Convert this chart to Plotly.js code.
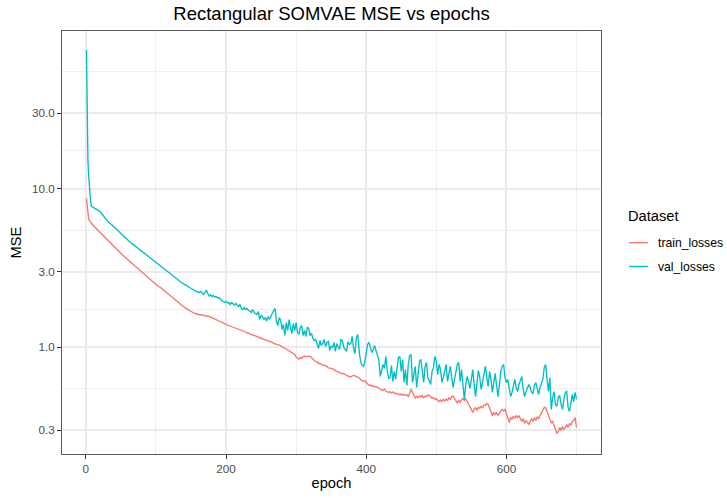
<!DOCTYPE html>
<html>
<head>
<meta charset="utf-8">
<script src="https://cdn.plot.ly/plotly-3.0.1.min.js"></script>
<style>
html,body{margin:0;padding:0;background:#ffffff;}
#chart{width:727px;height:498px;}
</style>
</head>
<body>
<div id="chart"></div>
<script>
const epochs = [
  1,2,3,4,5,6,7,8,9,10,
  12,14,16,18,20,24,28,32,37,41,
  46,51,56,61,66,71,76,81,86,91,
  96,101,107,112,117,122,127,132,137,142,
  147,150,
  152,154,156,158,160,162,164,166,168,170,
  172,174,176,178,180,182,184,186,188,190,
  192,194,196,198,200,202,204,206,208,210,
  212,214,216,218,220,222,224,226,228,230,
  232,234,236,238,240,242,244,246,248,250,
  252,254,256,258,260,262,264,266,268,270,
  272,274,276,278,280,282,284,286,288,290,
  292,294,296,298,300,302,304,306,308,310,
  312,314,316,318,320,322,324,326,328,330,
  332,334,336,338,340,342,344,346,348,350,
  352,354,356,358,360,362,364,366,368,370,
  372,374,376,378,380,382,384,386,388,390,
  392,394,396,398,400,402,404,406,408,410,
  412,414,416,418,420,422,424,426,428,430,
  432,434,436,438,440,442,444,446,448,450,
  452,454,456,458,460,462,464,466,468,470,
  472,474,476,478,480,482,484,486,488,490,
  492,494,496,498,500,502,504,506,508,510,
  512,514,516,518,520,522,524,526,528,530,
  532,534,536,538,540,542,544,546,548,550,
  552,554,556,558,560,562,564,566,568,570,
  572,574,576,578,580,582,584,586,588,590,
  592,594,596,598,600,602,604,606,608,610,
  612,614,616,618,620,622,624,626,628,630,
  632,634,636,638,640,642,644,646,648,650,
  652,654,656,658,660,662,664,666,668,670,
  672,674,676,678,680,682,684,686,688,690,
  692,694,696,698,700
];

const trainLosses = [
  8.67,7.5,6.9,6.5,6.3,6.2,6.1,6.02,5.95,5.9,
  5.78,5.66,5.55,5.42,5.3,5.08,4.86,4.65,4.45,4.27,
  4.06,3.87,3.69,3.53,3.38,3.23,3.08,2.94,2.81,2.69,
  2.57,2.47,2.37,2.27,2.17,2.07,1.99,1.91,1.84,1.77,
  1.71,1.68,
  1.655,1.643,1.631,1.619,1.607,1.607,1.596,1.596,1.584,1.584,
  1.573,1.573,1.561,1.55,1.539,1.517,1.506,1.494,1.473,1.462,
  1.452,1.431,1.42,1.41,1.39,1.38,1.37,1.35,1.35,1.34,1.331,
  1.321,1.311,1.302,1.293,1.283,1.265,1.256,1.247,1.229,1.229,
  1.211,1.203,1.194,1.185,1.185,1.168,1.16,1.143,1.143,1.126,
  1.126,1.11,1.102,1.102,1.086,1.078,1.071,1.055,1.048,1.04,
  1.033,1.025,1.025,1.003,0.996,0.988,0.974,0.96,0.947,0.94,
  0.926,0.92,0.899,0.867,0.855,0.842,0.861,0.849,0.874,0.88,
  0.867,0.88,0.874,0.874,0.861,0.836,0.824,0.813,0.807,0.789,
  0.789,0.778,0.772,0.767,0.756,0.756,0.74,0.74,0.735,0.729,0.718,
  0.713,0.703,0.698,0.693,0.683,0.678,0.683,0.668,0.663,0.658,
  0.653,0.649,0.658,0.663,0.658,0.653,0.649,0.64,0.626,0.613,
  0.608,0.613,0.599,0.586,0.573,0.578,0.565,0.573,0.561,0.565,
  0.557,0.549,0.541,0.537,0.533,0.545,0.529,0.525,0.518,0.525,
  0.514,0.522,0.51,0.514,0.503,0.51,0.5,0.507,0.496,0.503,
  0.496,0.5,0.488,0.51,0.545,0.518,0.496,0.478,0.488,0.481,
  0.492,0.485,0.496,0.481,0.492,0.488,0.5,0.495,0.488,0.474,0.481,
  0.468,0.474,0.461,0.454,0.464,0.454,0.468,0.458,0.471,0.461,
  0.478,0.468,0.488,0.492,0.474,0.461,0.445,0.461,0.448,0.464,
  0.474,0.461,0.471,0.454,0.435,0.423,0.405,0.388,0.405,0.417,
  0.399,0.417,0.411,0.423,0.414,0.432,0.429,0.441,0.435,0.417,
  0.393,0.368,0.388,0.373,0.388,0.371,0.382,0.393,0.405,0.396,
  0.405,0.382,0.35,0.335,0.36,0.35,0.368,0.355,0.371,0.36,
  0.368,0.35,0.34,0.355,0.33,0.345,0.335,0.325,0.34,0.355,0.34,
  0.36,0.345,0.363,0.355,0.371,0.382,0.399,0.417,0.414,0.393,
  0.376,0.35,0.333,0.34,0.316,0.303,0.285,0.294,0.312,0.298,
  0.316,0.303,0.312,0.325,0.312,0.33,0.321,0.34,0.345,0.36,
  0.312
];

const valLosses = [
  75,19.5,15.3,12.3,10.3,8.93,8.18,7.75,7.7,7.68,
  7.62,7.55,7.45,7.32,7.2,6.85,6.47,6.16,5.93,5.7,
  5.4,5.15,4.9,4.7,4.5,4.32,4.15,3.99,3.85,3.68,
  3.53,3.39,3.26,3.12,2.99,2.86,2.75,2.64,2.55,2.47,
  2.39,2.33,
  2.295,2.279,2.262,2.246,2.23,2.213,2.246,2.181,2.15,2.213,
  2.295,2.181,2.1,2.15,2.088,2.119,2.073,2.088,2.043,2.058,
  1.999,1.97,1.942,1.914,1.942,1.9,1.914,1.859,1.914,1.88,1.845,
  1.886,1.832,1.806,1.859,1.754,1.728,1.78,1.728,1.754,1.703,
  1.691,1.655,1.728,1.655,1.631,1.607,1.679,1.494,1.584,1.561,
  1.494,1.539,1.462,1.561,1.494,1.584,1.631,1.703,1.754,1.452,
  1.37,1.539,1.473,1.293,1.39,1.185,1.431,1.274,1.494,1.331,
  1.22,1.41,1.274,1.431,1.238,1.203,1.331,1.37,1.185,1.274,
  1.168,1.331,1.311,1.185,1.22,1.135,1.102,1.118,1.04,0.981,
  1.102,1.025,1.055,1.118,1.01,1.071,1.086,0.953,1.02,0.996,1.071,
  0.94,1.055,1.01,0.967,1.118,1.102,0.996,0.967,0.94,1.086,
  1.04,1.055,1.168,0.981,0.913,1.151,1.203,0.94,0.813,0.767,
  0.756,0.801,0.94,1.04,1.071,0.996,0.926,0.967,1.025,0.953,
  0.886,0.836,0.653,0.703,0.778,0.734,0.874,0.713,0.635,0.644,
  0.767,0.608,0.703,0.626,0.767,0.861,0.874,0.703,0.836,0.599,
  0.723,0.573,0.778,0.886,0.899,0.599,0.673,0.756,0.557,0.683,
  0.813,0.836,0.703,0.599,0.756,0.801,0.644,0.61,0.582,0.703,0.745,
  0.874,0.813,0.673,0.778,0.723,0.599,0.644,0.723,0.778,0.608,
  0.673,0.756,0.644,0.557,0.626,0.703,0.778,0.801,0.608,0.723,
  0.582,0.468,0.582,0.653,0.608,0.549,0.626,0.723,0.582,0.488,
  0.59,0.713,0.644,0.541,0.599,0.673,0.756,0.644,0.565,0.703,
  0.626,0.518,0.582,0.683,0.573,0.488,0.582,0.703,0.756,0.778,
  0.644,0.599,0.626,0.541,0.488,0.518,0.582,0.626,0.557,0.525,
  0.582,0.626,0.653,0.541,0.488,0.525,0.55,0.582,0.557,0.518,0.51,
  0.573,0.599,0.541,0.503,0.557,0.59,0.626,0.745,0.778,0.626,
  0.525,0.644,0.405,0.481,0.525,0.435,0.423,0.481,0.496,0.435,
  0.405,0.468,0.518,0.525,0.417,0.393,0.448,0.503,0.454,0.518,
  0.468
];

const seriesNames = ["train_losses", "val_losses"];
const seriesColors = ["#F8766D", "#00BFC4"];
const legendTitle = "Dataset";
const xTickVals = [0, 200, 400, 600];
const xMinorVals = [100, 300, 500, 700];
const yTickVals = [0.3, 1, 3, 10, 30];
const yTickText = ["0.3", "1.0", "3.0", "10.0", "30.0"];
const yMinorVals = [0.5477, 1.732, 5.477, 17.32, 54.77];

if (epochs.length !== trainLosses.length || epochs.length !== valLosses.length) {
  throw new Error("length mismatch: epochs " + epochs.length + " train " + trainLosses.length + " val " + valLosses.length);
}

const FONT = "Liberation Sans, Arial, Helvetica, sans-serif";
const W = 727, H = 498;
const M = {l: 62, r: 126, t: 31, b: 44};
const PW = W - M.l - M.r, PH = H - M.t - M.b;
const px = (x) => (x - M.l) / PW;          // pixel -> paper x
const py = (y) => 1 - (y - M.t) / PH;      // pixel -> paper y

const traces = [trainLosses, valLosses].map((ys, i) => ({
  type: "scatter",
  mode: "lines",
  x: epochs,
  y: ys,
  name: seriesNames[i],
  line: {color: seriesColors[i], width: 1.35},
  hoverinfo: "skip",
  showlegend: false
}));

// ggplot-style legend (title + short keys), placed to the right of the panel
const keyRows = [242.7, 266.5];
const annotations = [{
  text: legendTitle, xref: "paper", yref: "paper",
  x: px(625.5), y: py(216), xanchor: "left", yanchor: "middle",
  showarrow: false, font: {family: FONT, size: 14.7, color: "#000000"}
}];
const shapes = [];
seriesNames.forEach((name, i) => {
  shapes.push({
    type: "line", xref: "paper", yref: "paper",
    x0: px(629), x1: px(648), y0: py(keyRows[i]), y1: py(keyRows[i]),
    line: {color: seriesColors[i], width: 1.35}
  });
  annotations.push({
    text: name, xref: "paper", yref: "paper",
    x: px(656), y: py(keyRows[i]), xanchor: "left", yanchor: "middle",
    showarrow: false, font: {family: FONT, size: 12.2, color: "#000000"}
  });
});

const layout = {
  width: W,
  height: H,
  paper_bgcolor: "#ffffff",
  plot_bgcolor: "#ffffff",
  margin: {l: M.l, r: M.r, t: M.t, b: M.b, pad: 0},
  font: {family: FONT, color: "#000000"},
  title: {
    text: "Rectangular SOMVAE MSE vs epochs",
    font: {family: FONT, size: 18.5, color: "#000000"},
    x: 0.5, xref: "paper", xanchor: "center",
    y: 1 - 14 / H, yref: "container", yanchor: "middle"
  },
  showlegend: false,
  annotations: annotations,
  shapes: shapes,
  xaxis: {
    range: [-33.95, 734.95],
    tickmode: "array",
    tickvals: xTickVals,
    ticktext: xTickVals.map(String),
    showgrid: true, gridcolor: "#EBEBEB", gridwidth: 2,
    minor: {tickmode: "array", tickvals: xMinorVals, showgrid: true, gridcolor: "#EFEFEF", gridwidth: 1, ticks: ""},
    zeroline: false,
    showline: true, mirror: true, linecolor: "#5a5a5a", linewidth: 1,
    ticks: "outside", ticklen: 4, tickcolor: "#333333", tickwidth: 1,
    tickfont: {family: FONT, size: 11.7, color: "#4D4D4D"},
    title: {text: "epoch", font: {family: FONT, size: 14.7, color: "#000000"}, standoff: 3}
  },
  yaxis: {
    type: "log",
    range: [-0.674, 1.995],
    tickmode: "array",
    tickvals: yTickVals,
    ticktext: yTickText,
    showgrid: true, gridcolor: "#EBEBEB", gridwidth: 2,
    minor: {tickmode: "array", tickvals: yMinorVals, showgrid: true, gridcolor: "#EFEFEF", gridwidth: 1, ticks: ""},
    zeroline: false,
    showline: true, mirror: true, linecolor: "#5a5a5a", linewidth: 1,
    ticks: "outside", ticklen: 4, tickcolor: "#333333", tickwidth: 1,
    tickfont: {family: FONT, size: 11.7, color: "#4D4D4D"},
    title: {text: "MSE", font: {family: FONT, size: 14.7, color: "#000000"}, standoff: 6}
  },
  hovermode: false
};

Plotly.newPlot("chart", traces, layout, {displayModeBar: false, staticPlot: true});
</script>
</body>
</html>
